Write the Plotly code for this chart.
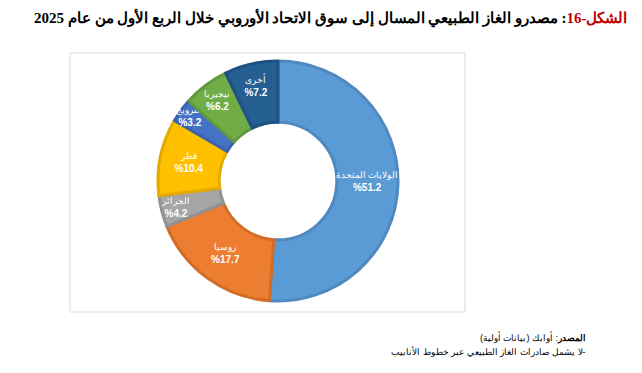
import plotly.graph_objects as go

sources = ["الولايات المتحدة", "روسيا", "الجزائر", "قطر", "النرويج", "نيجيريا", "أخرى"]
shares = [51.2, 17.7, 4.2, 10.4, 3.2, 6.2, 7.2]
fill_colors = ["#5B9BD5", "#ED7D31", "#A5A5A5", "#FFC000", "#4472C4", "#70AD47", "#255E91"]
edge_colors = ["#4F89C0", "#D36C27", "#929292", "#E3AB00", "#3A63AE", "#62993D", "#1F5283"]

title_red = "الشكل-16"
title_rest = ": مصدرو الغاز الطبيعي المسال إلى سوق الاتحاد الأوروبي خلال الربع الأول من عام 2025"
source_label = "المصدر"
source_text = ": أوابك (بيانات أولية)"
note_text = "-لا يشمل صادرات الغاز الطبيعي عبر خطوط الأنابيب"

RLM = "\u200F"
OFF = 8  # default body margin of the html page
FW, FH = 642 - 2 * OFF, 373 - 2 * OFF


def px(xw):
    return (xw - OFF) / FW


def py(yw):
    return 1 - (yw - OFF) / FH


labels_text = [f"<span style='font-size:9px'>{s}</span><br><b>%{v}</b>" for s, v in zip(sources, shares)]

fig = go.Figure(go.Pie(
    labels=sources,
    values=shares,
    text=labels_text,
    textinfo="text",
    textposition="inside",
    insidetextorientation="horizontal",
    hole=0.49,
    sort=False,
    direction="clockwise",
    rotation=0,
    marker=dict(colors=fill_colors, line=dict(color=edge_colors, width=3)),
    textfont=dict(family="Liberation Sans, Arial", size=10, color="white"),
    domain=dict(x=[px(158), px(398)], y=[py(302), py(60)]),
    showlegend=False,
))

fig.add_shape(type="rect", xref="paper", yref="paper",
              x0=px(70), x1=px(465), y0=py(312), y1=py(53),
              line=dict(color="#D9D9D9", width=1), fillcolor="rgba(0,0,0,0)", layer="below")

fig.add_annotation(
    xref="paper", yref="paper", x=px(630), y=py(18), xanchor="right", yanchor="middle",
    showarrow=False,
    text=f"{RLM}<b><span style='color:#C00000'>{title_red}</span>{title_rest}</b>",
    font=dict(family="Liberation Serif, DejaVu Serif, serif", size=15, color="#000000"),
)
fig.add_annotation(
    xref="paper", yref="paper", x=px(588), y=py(337), xanchor="right", yanchor="middle",
    showarrow=False,
    text=f"{RLM}<b>{source_label}</b>{source_text}",
    font=dict(family="Liberation Sans, Arial", size=9, color="#000000"),
)
fig.add_annotation(
    xref="paper", yref="paper", x=px(588), y=py(352), xanchor="right", yanchor="middle",
    showarrow=False,
    text=f"{RLM}{note_text}",
    font=dict(family="Liberation Sans, Arial", size=9, color="#000000"),
)

fig.update_layout(
    width=FW, height=FH,
    margin=dict(l=0, r=0, t=0, b=0),
    paper_bgcolor="white", plot_bgcolor="white",
    uniformtext=dict(minsize=10, mode="show"),
)

fig.write_html("out.html")
